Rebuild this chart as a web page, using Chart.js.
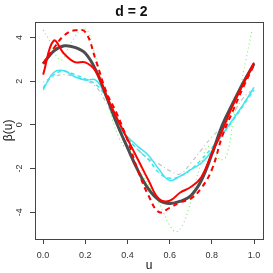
<!DOCTYPE html>
<html>
<head>
<meta charset="utf-8">
<script src="https://cdn.jsdelivr.net/npm/chart.js@4/dist/chart.umd.min.js"></script>
<style>
  html, body { margin: 0; padding: 0; background: #fff; }
</style>
</head>
<body>
<canvas id="mycanvas" width="273" height="273"></canvas>
<script>
// grid of u values used by most curves
var u = [0, 0.05, 0.1, 0.15, 0.2, 0.25, 0.3, 0.35, 0.4, 0.45, 0.5,
         0.55, 0.6, 0.65, 0.7, 0.75, 0.8, 0.85, 0.9, 0.95, 1];

var trueBeta  = [2.8, 3.38, 3.62, 3.55, 3.28, 2.5, 1.3, 0.05, -1.05, -2.1, -2.95,
                 -3.45, -3.6, -3.5, -3.25, -2.55, -1.35, 0.0, 1.0, 1.95, 2.8];
var redSolid  = [2.3, 3.85, 3.25, 2.87, 2.86, 2.45, 1.35, 0.3, -0.65, -1.6, -2.55,
                 -3.4, -3.48, -3.1, -2.85, -2.4, -1.3, -0.25, 0.9, 1.9, 2.85];
var redDash   = [2.8, 3.5, 4.1, 4.33, 4.25, 2.95, 1.5, 0.5, -0.7, -2.1, -3.25,
                 -4.0, -3.8, -3.55, -3.38, -2.9, -2.05, -0.5, 0.65, 1.75, 2.75];
var cyanSolid = [1.6, 2.4, 2.48, 2.2, 2.05, 2.05, 1.25, 0.0, -0.55, -1.0, -1.4,
                 -2.05, -2.55, -2.35, -2.05, -1.75, -1.2, -0.45, 0.25, 0.95, 1.72];
var cyanDash  = [1.7, 2.3, 2.45, 2.3, 2.1, 1.85, 1.25, 0.15, -0.6, -1.15, -1.6,
                 -2.2, -2.45, -2.35, -2.05, -1.6, -1.05, -0.45, 0.2, 0.9, 1.6];
var greyDash  = [1.95, 2.2, 2.3, 2.2, 2.05, 1.75, 1.0, 0.05, -0.6, -1.15, -1.55,
                 -1.8, -2.1, -2.25, -1.75, -1.15, -0.55, -0.1, 0.5, 1.25, 1.65];

// green dotted curve has sharper wiggles, so it has its own grid
var uGreen = [0, 0.03, 0.06, 0.09, 0.12, 0.15, 0.18, 0.21, 0.24, 0.27, 0.3, 0.33,
              0.36, 0.39, 0.42, 0.45, 0.48, 0.51, 0.54, 0.57, 0.6, 0.63, 0.66,
              0.69, 0.72, 0.75, 0.78, 0.81, 0.84, 0.87, 0.9, 0.93, 0.96, 0.99];
var green  = [4.35, 3.85, 3.2, 2.98, 3.55, 4.02, 4.35, 4.32, 3.4, 2.4, 1.4, 0.2,
              -0.6, -1.05, -1.22, -1.6, -2.4, -2.9, -3.4, -4.0, -4.6, -4.9, -4.6,
              -3.85, -2.7, -1.75, -1.0, -1.2, -1.6, -1.4, 0.1, 1.5, 2.9, 4.3];

var xTicks = [0, 0.2, 0.4, 0.6, 0.8, 1.0];
var yTicks = [-4, -2, 0, 2, 4];

var FONT = '"Liberation Sans", Arial, sans-serif';

function pts(xs, ys) {
  var out = [];
  for (var i = 0; i < xs.length; i++) out.push({x: xs[i], y: ys[i]});
  return out;
}

function line(data, color, width, dash) {
  return {
    data: data,
    borderColor: color,
    borderWidth: width,
    borderDash: dash || [],
    pointRadius: 0,
    fill: false,
    tension: 0.4
  };
}

// box around the plot and rotated y tick labels (R style)
var rStyle = {
  id: 'rStyle',
  afterDraw: function(chart) {
    var ctx = chart.ctx, a = chart.chartArea, ys = chart.scales.y;
    ctx.save();
    ctx.strokeStyle = '#444';
    ctx.lineWidth = 1;
    ctx.strokeRect(Math.round(a.left) + 0.5, Math.round(a.top) + 0.5,
                   Math.round(a.right - a.left), Math.round(a.bottom - a.top));
    ctx.fillStyle = '#333';
    ctx.font = '9px ' + FONT;
    ctx.textAlign = 'center';
    ctx.textBaseline = 'middle';
    yTicks.forEach(function(v) {
      ctx.save();
      ctx.translate(a.left - 15, ys.getPixelForValue(v));
      ctx.rotate(-Math.PI / 2);
      ctx.fillText(String(v), 0, 0);
      ctx.restore();
    });
    ctx.restore();
  }
};

var ctx = document.getElementById('mycanvas');

new Chart(ctx, {
  type: 'line',
  data: {
    datasets: [
      line(pts(u, redSolid), '#ff0000', 2),
      line(pts(u, redDash), '#ff0000', 2, [5, 4]),
      line(pts(u, trueBeta), '#4d4d4d', 3),
      line(pts(u, cyanSolid), '#3fe6f0', 1.5),
      line(pts(u, cyanDash), '#3fe6f0', 1.5, [4, 3]),
      line(pts(u, greyDash), '#c4c4c4', 1.2, [1, 3, 4, 3]),
      line(pts(uGreen, green), '#77ee66', 1.1, [1, 3])
    ]
  },
  options: {
    responsive: false,
    animation: false,
    devicePixelRatio: 1,
    layout: { padding: { left: 0, right: 10, top: 0, bottom: 0 } },
    plugins: {
      legend: { display: false },
      tooltip: { enabled: false },
      title: {
        display: true,
        text: 'd = 2',
        color: '#111',
        font: { family: FONT, size: 14, weight: 'bold' },
        padding: { top: 4, bottom: 1 }
      }
    },
    scales: {
      x: {
        type: 'linear',
        min: -0.0385,
        max: 1.0425,
        afterBuildTicks: function(scale) {
          scale.ticks = xTicks.map(function(v) { return {value: v}; });
        },
        afterFit: function(scale) { scale.height = 34; },
        border: { display: false },
        grid: { drawOnChartArea: false, drawTicks: true, tickLength: 5, tickColor: '#444' },
        ticks: {
          color: '#333',
          font: { family: FONT, size: 9 },
          padding: 6,
          maxRotation: 0,
          callback: function(v) { return Number(v).toFixed(1); }
        },
        title: {
          display: true,
          text: 'u',
          color: '#111',
          font: { family: FONT, size: 12, lineHeight: 1 },
          padding: { top: 0, bottom: 1 }
        }
      },
      y: {
        type: 'linear',
        min: -5.23,
        max: 4.72,
        afterBuildTicks: function(scale) {
          scale.ticks = yTicks.map(function(v) { return {value: v}; });
        },
        afterFit: function(scale) { scale.width = 35; },
        border: { display: false },
        grid: { drawOnChartArea: false, drawTicks: true, tickLength: 5, tickColor: '#444' },
        ticks: { display: false },
        title: {
          display: true,
          text: 'β(u)',
          color: '#111',
          font: { family: FONT, size: 12 },
          padding: { top: 1, bottom: 0 }
        }
      }
    }
  },
  plugins: [rStyle]
});
</script>
</body>
</html>
